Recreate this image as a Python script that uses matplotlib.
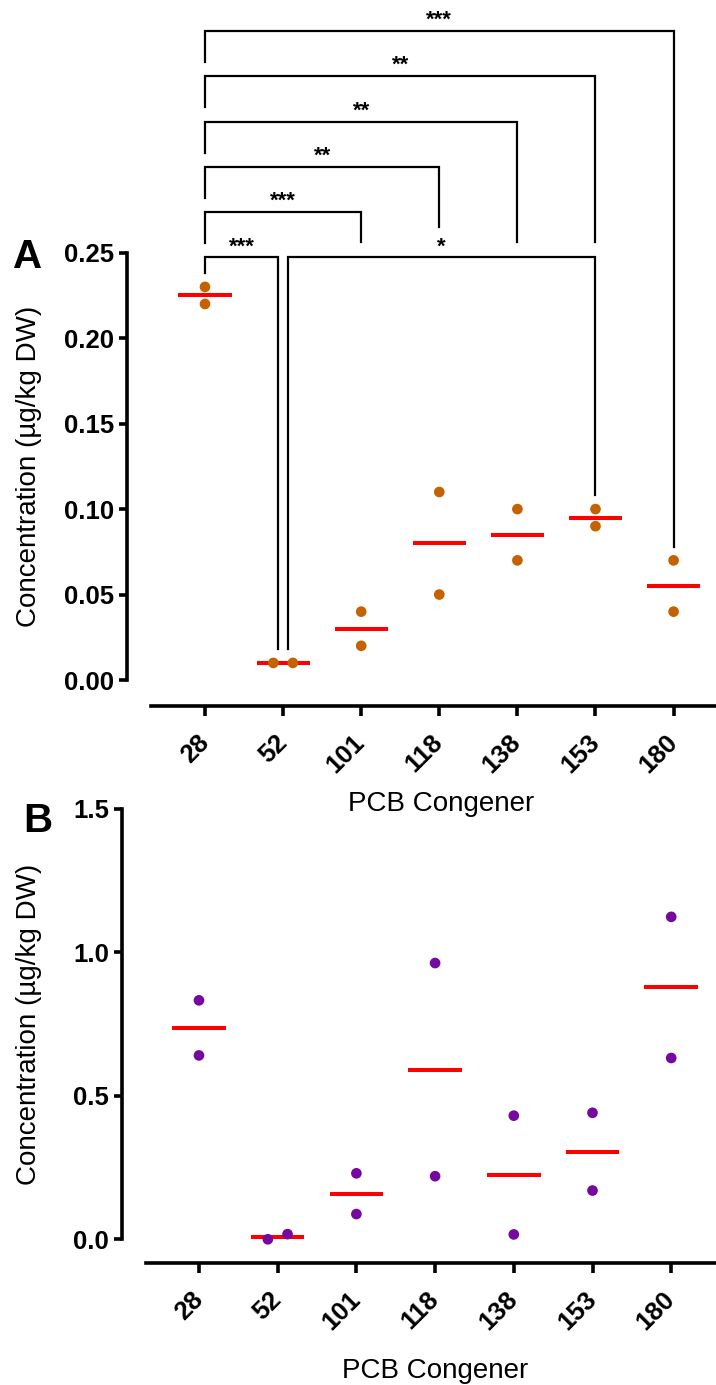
import numpy as np
import matplotlib
matplotlib.use("Agg")
import matplotlib.pyplot as plt

# -----------------------------
# Data
# -----------------------------
congeners = ["28", "52", "101", "118", "138", "153", "180"]

# panel A: two replicate values per congener
a_rep1 = [0.23, 0.01, 0.04, 0.11, 0.10, 0.10, 0.07]
a_rep2 = [0.22, 0.01, 0.02, 0.05, 0.07, 0.09, 0.04]

# panel B: two replicate values per congener
b_rep1 = [0.833, 0.000, 0.230, 0.963, 0.431, 0.441, 1.124]
b_rep2 = [0.641, 0.018, 0.088, 0.220, 0.017, 0.170, 0.632]

# significance brackets for panel A: (group i, group j, stars)
comp_pairs = [(0, 6), (0, 5), (0, 4), (0, 3), (0, 2), (0, 1), (1, 5)]
comp_stars = ["***", "**", "**", "**", "***", "***", "*"]

# -----------------------------
# Style
# -----------------------------
plt.rcParams["font.family"] = ["Liberation Sans", "DejaVu Sans"]
ORANGE = "#C56200"
PURPLE = "#75089F"
RED = "#FF0000"
W, H = 716, 1385
TICK_FS = 18.5

fig = plt.figure(figsize=(W / 100, H / 100), dpi=100)


def px_axes(left, right, bottom, top):
    return fig.add_axes([left / W, 1 - bottom / H, (right - left) / W, (bottom - top) / H])


def style_axes(ax, yticks, fmt, xstart):
    for side in ["top", "right"]:
        ax.spines[side].set_visible(False)
    for side in ["left", "bottom"]:
        ax.spines[side].set_linewidth(2.6)
    ax.spines["left"].set_bounds(yticks[0], yticks[-1])
    ax.spines["bottom"].set_bounds(xstart, ax.get_xlim()[1])
    ax.set_yticks(yticks)
    ax.set_yticklabels([fmt % t for t in yticks], fontsize=TICK_FS, fontweight="bold")
    ax.set_xticks(range(len(congeners)))
    ax.set_xticklabels(congeners, fontsize=TICK_FS, fontweight="bold")
    ax.tick_params(axis="y", length=5.8, width=2.6, pad=3.6)
    ax.tick_params(axis="x", length=7.5, width=2.6, pad=16)
    plt.setp(ax.get_xticklabels(), rotation=45, ha="right", va="center",
             rotation_mode="anchor")


def draw_points(ax, rep1, rep2, color):
    x = np.arange(len(congeners), dtype=float)
    x1, x2 = x.copy(), x.copy()
    # overlapping points at congener 52 are spread side by side
    x1[1] -= 0.125
    x2[1] += 0.125
    ax.scatter(x1, rep1, s=59, color=color, edgecolor="none", zorder=3, clip_on=False)
    ax.scatter(x2, rep2, s=59, color=color, edgecolor="none", zorder=3, clip_on=False)
    means = (np.array(rep1) + np.array(rep2)) / 2
    ax.hlines(means, x - 0.34, x + 0.34, color=RED, lw=2.9, zorder=2)


# -----------------------------
# Panel A
# -----------------------------
axA = px_axes(127, 716, 706, 252.7)
axA.set_xlim(-0.9987, 6.543)
axA.set_ylim(-0.01521, 0.25)
draw_points(axA, a_rep1, a_rep2, ORANGE)
style_axes(axA, [0, 0.05, 0.10, 0.15, 0.20, 0.25], "%.2f", -0.691)

# brackets
levels = [5, 4, 3, 2, 1, 0, 0]
base_y, step = 0.2472, 0.0265
leg_left = 0.0181
leg_stop = [None, 0.2562, 0.2562, 0.2650, 0.2562, None, None]
a_max = np.maximum(a_rep1, a_rep2)
for k, ((i, j), stars) in enumerate(zip(comp_pairs, comp_stars)):
    y = base_y + levels[k] * step
    xi, xj = float(i), float(j)
    if levels[k] == 0:
        # the two bottom brackets meet at congener 52
        if j == 1:
            xj -= 0.064
        if i == 1:
            xi += 0.064
    left_end = y - (0.0088 if (levels[k] == 0 and i == 0) else leg_left)
    if i == 1:
        left_end = a_max[i] + 0.008
    right_end = leg_stop[k] if leg_stop[k] is not None else a_max[j] + 0.008
    axA.plot([xi, xi, xj, xj], [left_end, y, y, right_end], color="black",
             lw=1.6, solid_joinstyle="miter", clip_on=False, zorder=1)
    axA.text((xi + xj) / 2, y + 0.0062, stars, ha="center", va="center",
             fontsize=16, fontweight="bold")

# -----------------------------
# Panel B
# -----------------------------
axB = px_axes(122, 716, 1263, 809)
axB.set_xlim(-0.978, 6.569)
axB.set_ylim(-0.0826, 1.5)
draw_points(axB, b_rep1, b_rep2, PURPLE)
style_axes(axB, [0, 0.5, 1.0, 1.5], "%.1f", -0.673)

# -----------------------------
# Labels
# -----------------------------
ylab = "Concentration (µg/kg DW)"
fig.text(29 / W, 1 - 466 / H, ylab, rotation=90, ha="center", va="center", fontsize=20)
fig.text(29 / W, 1 - 1024 / H, ylab, rotation=90, ha="center", va="center", fontsize=20)
fig.text(441 / W, 1 - 804 / H, "PCB Congener", ha="center", va="center", fontsize=20)
fig.text(435 / W, 1 - 1371 / H, "PCB Congener", ha="center", va="center", fontsize=20)
fig.text(13 / W, 1 - 268 / H, "A", ha="left", va="baseline", fontsize=29, fontweight="bold")
fig.text(23 / W, 1 - 832 / H, "B", ha="left", va="baseline", fontsize=29, fontweight="bold")

fig.savefig("out.png", dpi=100)
